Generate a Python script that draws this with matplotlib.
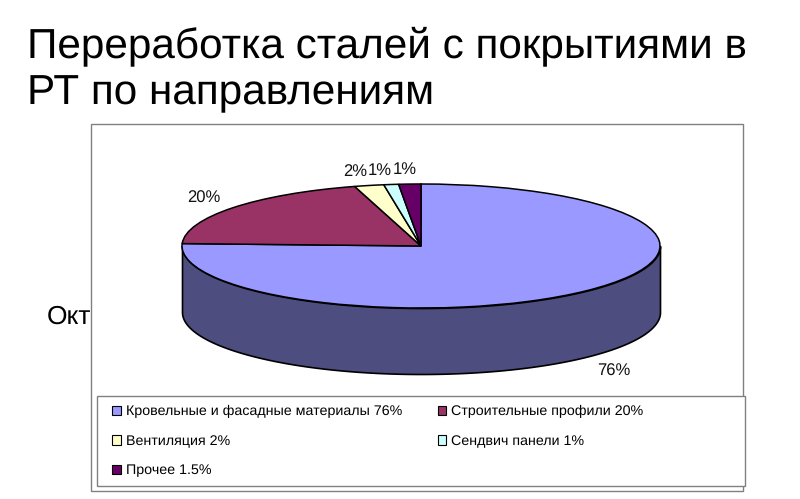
import numpy as np
import matplotlib
matplotlib.use('Agg')
import matplotlib.pyplot as plt
from matplotlib.patches import Rectangle, Patch

plt.rcParams['font.family'] = ['Liberation Sans', 'DejaVu Sans']
plt.rcParams['text.hinting'] = 'no_hinting'

W, H = 800, 499

title = 'Переработка сталей с покрытиями в\nРТ по направлениям'
names = ['Кровельные и фасадные материалы 76%', 'Строительные профили 20%',
         'Вентиляция 2%', 'Сендвич панели 1%', 'Прочее 1.5%']
values = [76, 20, 2, 1, 1.5]
pct_labels = ['76%', '20%', '2%', '1%', '1%']
colors = ['#9999ff', '#993366', '#ffffcc', '#ccffff', '#660066']
side_color = '#4d4d80'


def px(x, y):
    return x / W, 1 - y / H


fig = plt.figure(figsize=(W / 100, H / 100), dpi=100)

fig.text(*px(27, 26), title, fontsize=30.4, va='top', ha='left', color='black', linespacing=1.26)
fig.text(*px(47, 317), 'Окт', fontsize=19, va='center', ha='left', color='black', zorder=-2)

# chart border, covers the clipped text behind it
fig.add_artist(Rectangle(px(91, 491), 652 / W, 367 / H, transform=fig.transFigure,
                         fc='white', ec='#808080', lw=1, zorder=-1))
fig.add_artist(Rectangle(px(97, 486), 648 / W, 90 / H, transform=fig.transFigure,
                         fc='white', ec='#808080', lw=1, zorder=-1))

# pie top is a normal pie squeezed flat by the axes
rx, ry = 239, 62
cx, cy = 421, 246
depth = 66 / ry
ax = fig.add_axes([(cx - rx) / W, 1 - (cy + ry) / H, 2 * rx / W, 2 * ry / H])

t = np.linspace(-np.pi, 0, 200)
xs = np.cos(t)
ys = np.sin(t)
ax.fill_between(xs, ys - depth, ys, color=side_color, ec='black', lw=1.2, clip_on=False, zorder=1)

wedges, _ = ax.pie(values, colors=colors, startangle=90, counterclock=False,
                   wedgeprops={'ec': 'black', 'lw': 1.1})
for w in wedges:
    w.set_zorder(2)
    w.set_clip_on(False)
ax.set_aspect('auto')
ax.set_xlim(-1, 1)
ax.set_ylim(-1, 1)
ax.axis('off')

label_pos = [(614, 371), (204, 198), (355, 172), (380, 171), (405, 170)]
for lab, (x, y) in zip(pct_labels, label_pos):
    fig.text(*px(x, y), lab, fontsize=12, ha='center', va='center', color='#111111')

order = [0, 2, 4, 1, 3]
handles = [Patch(fc=colors[i], ec='black', lw=0.8, label=names[i]) for i in order]
fig.legend(handles=handles, ncol=2, frameon=False, fontsize=10.3,
           loc='upper left', bbox_to_anchor=px(106, 399), bbox_transform=fig.transFigure,
           handlelength=0.6, handleheight=0.6, handletextpad=0.33,
           columnspacing=2.5, labelspacing=1.15, borderpad=0.45, borderaxespad=0)

fig.savefig('out.png', dpi=100)
